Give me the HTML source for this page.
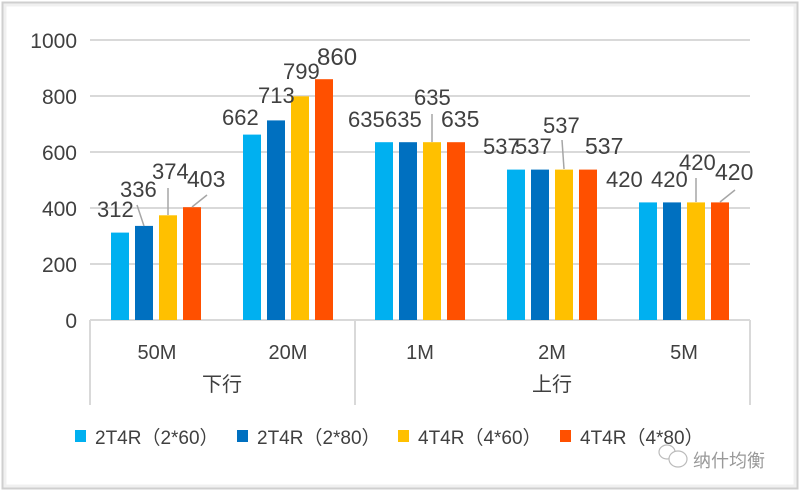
<!DOCTYPE html>
<html><head><meta charset="utf-8"><style>
html,body{margin:0;padding:0;background:#fff;}
svg{display:block;}
text{font-family:"Liberation Sans","Noto Sans CJK SC",sans-serif;fill:#404040;}
</style></head><body>
<svg width="800" height="492" viewBox="0 0 800 492" xmlns="http://www.w3.org/2000/svg">
<rect x="2.5" y="2.5" width="795" height="486" fill="#fff" stroke="#cfcfcf" stroke-width="2"/>
<rect x="5" y="5" width="790" height="481" fill="none" stroke="#f0f0f0" stroke-width="3"/>
<g stroke="#d9d9d9" stroke-width="2">
<line x1="90" y1="40" x2="750" y2="40"/>
<line x1="90" y1="96" x2="750" y2="96"/>
<line x1="90" y1="152" x2="750" y2="152"/>
<line x1="90" y1="208" x2="750" y2="208"/>
<line x1="90" y1="264" x2="750" y2="264"/>
<line x1="90" y1="320" x2="750" y2="320"/>
<line x1="90" y1="320" x2="90" y2="405"/>
<line x1="355" y1="320" x2="355" y2="405"/>
<line x1="750" y1="320" x2="750" y2="405"/>
</g>
<g font-size="21" text-anchor="end">
<text x="77" y="48">1000</text>
<text x="77" y="104">800</text>
<text x="77" y="160">600</text>
<text x="77" y="216">400</text>
<text x="77" y="272">200</text>
<text x="77" y="328">0</text>
</g>
<g>
<rect x="111" y="232.6" width="18" height="87.4" fill="#00b0f0"/>
<rect x="135" y="225.9" width="18" height="94.1" fill="#0070c0"/>
<rect x="159" y="215.3" width="18" height="104.7" fill="#ffc000"/>
<rect x="183" y="207.2" width="18" height="112.8" fill="#ff5000"/>
<rect x="243" y="134.6" width="18" height="185.4" fill="#00b0f0"/>
<rect x="267" y="120.4" width="18" height="199.6" fill="#0070c0"/>
<rect x="291" y="96.3" width="18" height="223.7" fill="#ffc000"/>
<rect x="315" y="79.2" width="18" height="240.8" fill="#ff5000"/>
<rect x="375" y="142.2" width="18" height="177.8" fill="#00b0f0"/>
<rect x="399" y="142.2" width="18" height="177.8" fill="#0070c0"/>
<rect x="423" y="142.2" width="18" height="177.8" fill="#ffc000"/>
<rect x="447" y="142.2" width="18" height="177.8" fill="#ff5000"/>
<rect x="507" y="169.6" width="18" height="150.4" fill="#00b0f0"/>
<rect x="531" y="169.6" width="18" height="150.4" fill="#0070c0"/>
<rect x="555" y="169.6" width="18" height="150.4" fill="#ffc000"/>
<rect x="579" y="169.6" width="18" height="150.4" fill="#ff5000"/>
<rect x="639" y="202.4" width="18" height="117.6" fill="#00b0f0"/>
<rect x="663" y="202.4" width="18" height="117.6" fill="#0070c0"/>
<rect x="687" y="202.4" width="18" height="117.6" fill="#ffc000"/>
<rect x="711" y="202.4" width="18" height="117.6" fill="#ff5000"/>
</g>
<g stroke="#a6a6a6" stroke-width="1.5">
<line x1="137" y1="205" x2="144" y2="226"/>
<line x1="168" y1="188" x2="168" y2="215"/>
<line x1="207" y1="195" x2="192" y2="207"/>
<line x1="432" y1="114" x2="432" y2="142"/>
<line x1="562" y1="140" x2="564" y2="169"/>
<line x1="696" y1="178" x2="696" y2="202"/>
<line x1="735" y1="190" x2="720" y2="202"/>
</g>
<g font-size="22">
<text x="97" y="217">312</text>
<text x="120" y="197">336</text>
<text x="152" y="179">374</text>
<text x="187" y="187" font-size="23">403</text>
<text x="222" y="125">662</text>
<text x="258" y="103">713</text>
<text x="283" y="79">799</text>
<text x="317" y="65" font-size="24">860</text>
<text x="348" y="127">635</text>
<text x="385" y="127">635</text>
<text x="414" y="105">635</text>
<text x="441" y="127" font-size="23">635</text>
<text x="483" y="154">537</text>
<text x="515" y="154">537</text>
<text x="543" y="133">537</text>
<text x="585" y="154" font-size="23">537</text>
<text x="606" y="187">420</text>
<text x="651" y="187">420</text>
<text x="679" y="170">420</text>
<text x="715" y="180" font-size="23">420</text>
</g>
<g font-size="20" text-anchor="middle">
<text x="157" y="359">50M</text>
<text x="288" y="359">20M</text>
<text x="420" y="359">1M</text>
<text x="552" y="359">2M</text>
<text x="684" y="359">5M</text>
<text x="222" y="391">下行</text>
<text x="552" y="391">上行</text>
</g>
<g font-size="19">
<rect x="75" y="430" width="11" height="12" fill="#00b0f0"/>
<text x="95" y="444">2T4R（2*60）</text>
<rect x="237" y="430" width="11" height="12" fill="#0070c0"/>
<text x="257" y="444">2T4R（2*80）</text>
<rect x="398" y="430" width="11" height="12" fill="#ffc000"/>
<text x="418" y="444">4T4R（4*60）</text>
<rect x="560" y="430" width="11" height="12" fill="#ff5000"/>
<text x="580" y="444">4T4R（4*80）</text>
</g>
<g stroke="#bbb" fill="none" stroke-width="1.2">
<ellipse cx="667" cy="452" rx="8" ry="7"/>
<ellipse cx="678" cy="459" rx="9" ry="8" fill="#fff"/>
</g>
<text x="693" y="467" font-size="18" style="fill:#999">纳什均衡</text>
</svg>
</body></html>
